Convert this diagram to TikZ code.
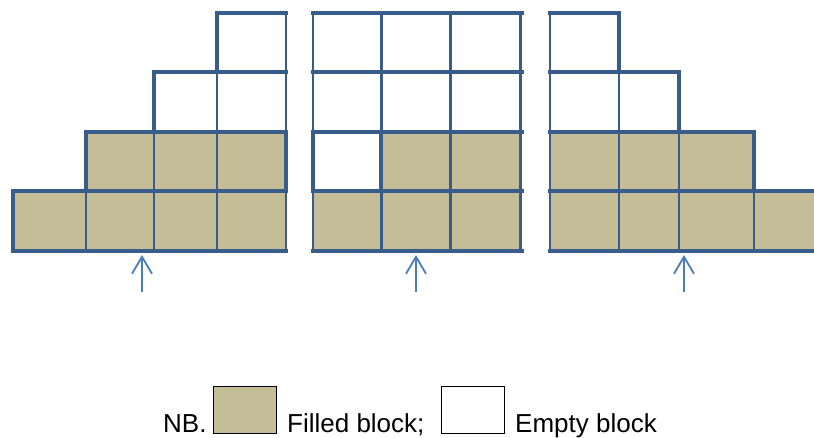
\documentclass[tikz,border=0pt]{standalone}
\usepackage{fontspec}
\setmainfont{Liberation Sans}
\usetikzlibrary{arrows.meta}
\definecolor{gridblue}{RGB}{56,93,138}
\definecolor{tanfill}{RGB}{196,189,151}
\definecolor{arrowblue}{RGB}{74,126,187}
\begin{document}
\begin{tikzpicture}[x=1pt,y=-1pt,
  filledcell/.style={fill=tanfill},
  thinline/.style={draw=gridblue,line width=2.2pt},
  midline/.style={draw=gridblue,line width=3pt},
  thickline/.style={draw=gridblue,line width=4.5pt,line cap=rect,line join=miter},
  uparrow/.style={draw=arrowblue,line width=1.8pt,-{Straight Barb[length=17pt,width=20pt,line width=1.8pt]}},
  legendbox/.style={draw=black,line width=1.3pt,minimum width=63pt,minimum height=47pt,inner sep=0pt,anchor=north west},
  legendtext/.style={font=\fontsize{26}{30}\selectfont,inner sep=0pt,anchor=base west}]
\useasboundingbox (0,0) rectangle (814,437);

% ---------- Panel 1 ----------
\fill[filledcell] (86,132) rectangle (286,191);
\fill[filledcell] (13,191) rectangle (287,251);
\draw[thinline] (86,191) -- (86,251);
\draw[thinline] (154,132) -- (154,251);
\draw[thinline] (217,72) -- (217,251);
\draw[thinline] (286,13) -- (286,251);
\draw[thickline] (13,251) -- (13,191) -- (86,191) -- (86,132) -- (154,132) -- (154,72) -- (217,72) -- (217,13) -- (286,13);
\draw[thickline] (154,72) -- (286,72);
\draw[thickline] (86,132) -- (286,132);
\draw[thickline] (13,191) -- (286,191);
\draw[thickline] (13,251) -- (286,251);
\draw[thickline] (286,132) -- (286,191);

% ---------- Panel 2 ----------
\fill[filledcell] (381,132) rectangle (522,191);
\fill[filledcell] (313,191) rectangle (522,251);
\draw[thinline] (313,13) -- (313,251);
\draw[midline] (381,13) -- (381,251);
\draw[midline] (450,13) -- (450,251);
\draw[midline] (520,13) -- (520,251);
\draw[thickline] (313,13) -- (522,13);
\draw[thickline] (313,72) -- (522,72);
\draw[thickline] (313,132) -- (522,132);
\draw[thickline] (313,191) -- (522,191);
\draw[thickline] (313,251) -- (522,251);
\draw[thickline] (313,132) rectangle (381,191);

% ---------- Panel 3 ----------
\fill[filledcell] (550,132) rectangle (754,191);
\fill[filledcell] (550,191) rectangle (814,251);
\draw[thinline] (550,13) -- (550,251);
\draw[thinline] (619,72) -- (619,251);
\draw[thinline] (679,132) -- (679,251);
\draw[thinline] (754,191) -- (754,251);
\draw[thickline] (550,13) -- (619,13) -- (619,72) -- (679,72) -- (679,132) -- (754,132) -- (754,191) -- (814,191);
\draw[thickline] (550,72) -- (619,72);
\draw[thickline] (550,132) -- (679,132);
\draw[thickline] (550,191) -- (754,191);
\draw[thickline] (550,251) -- (814,251);

% ---------- Arrows ----------
\coordinate (t1) at (142,292); \coordinate (h1) at (142,255);
\coordinate (t2) at (416,292); \coordinate (h2) at (416,255);
\coordinate (t3) at (684,292); \coordinate (h3) at (684,255);
\draw[uparrow] (t1) -- (h1);
\draw[uparrow] (t2) -- (h2);
\draw[uparrow] (t3) -- (h3);

% ---------- Legend ----------
\node[legendtext] (nb) at (163,432) {NB.};
\node[legendbox,fill=tanfill] (fbox) at (213,386) {};
\node[legendtext] (ftext) at (287,432) {Filled block;};
\node[legendbox,fill=white] (ebox) at (441,386) {};
\node[legendtext] (etext) at (515,432) {Empty block};
\end{tikzpicture}
\end{document}
